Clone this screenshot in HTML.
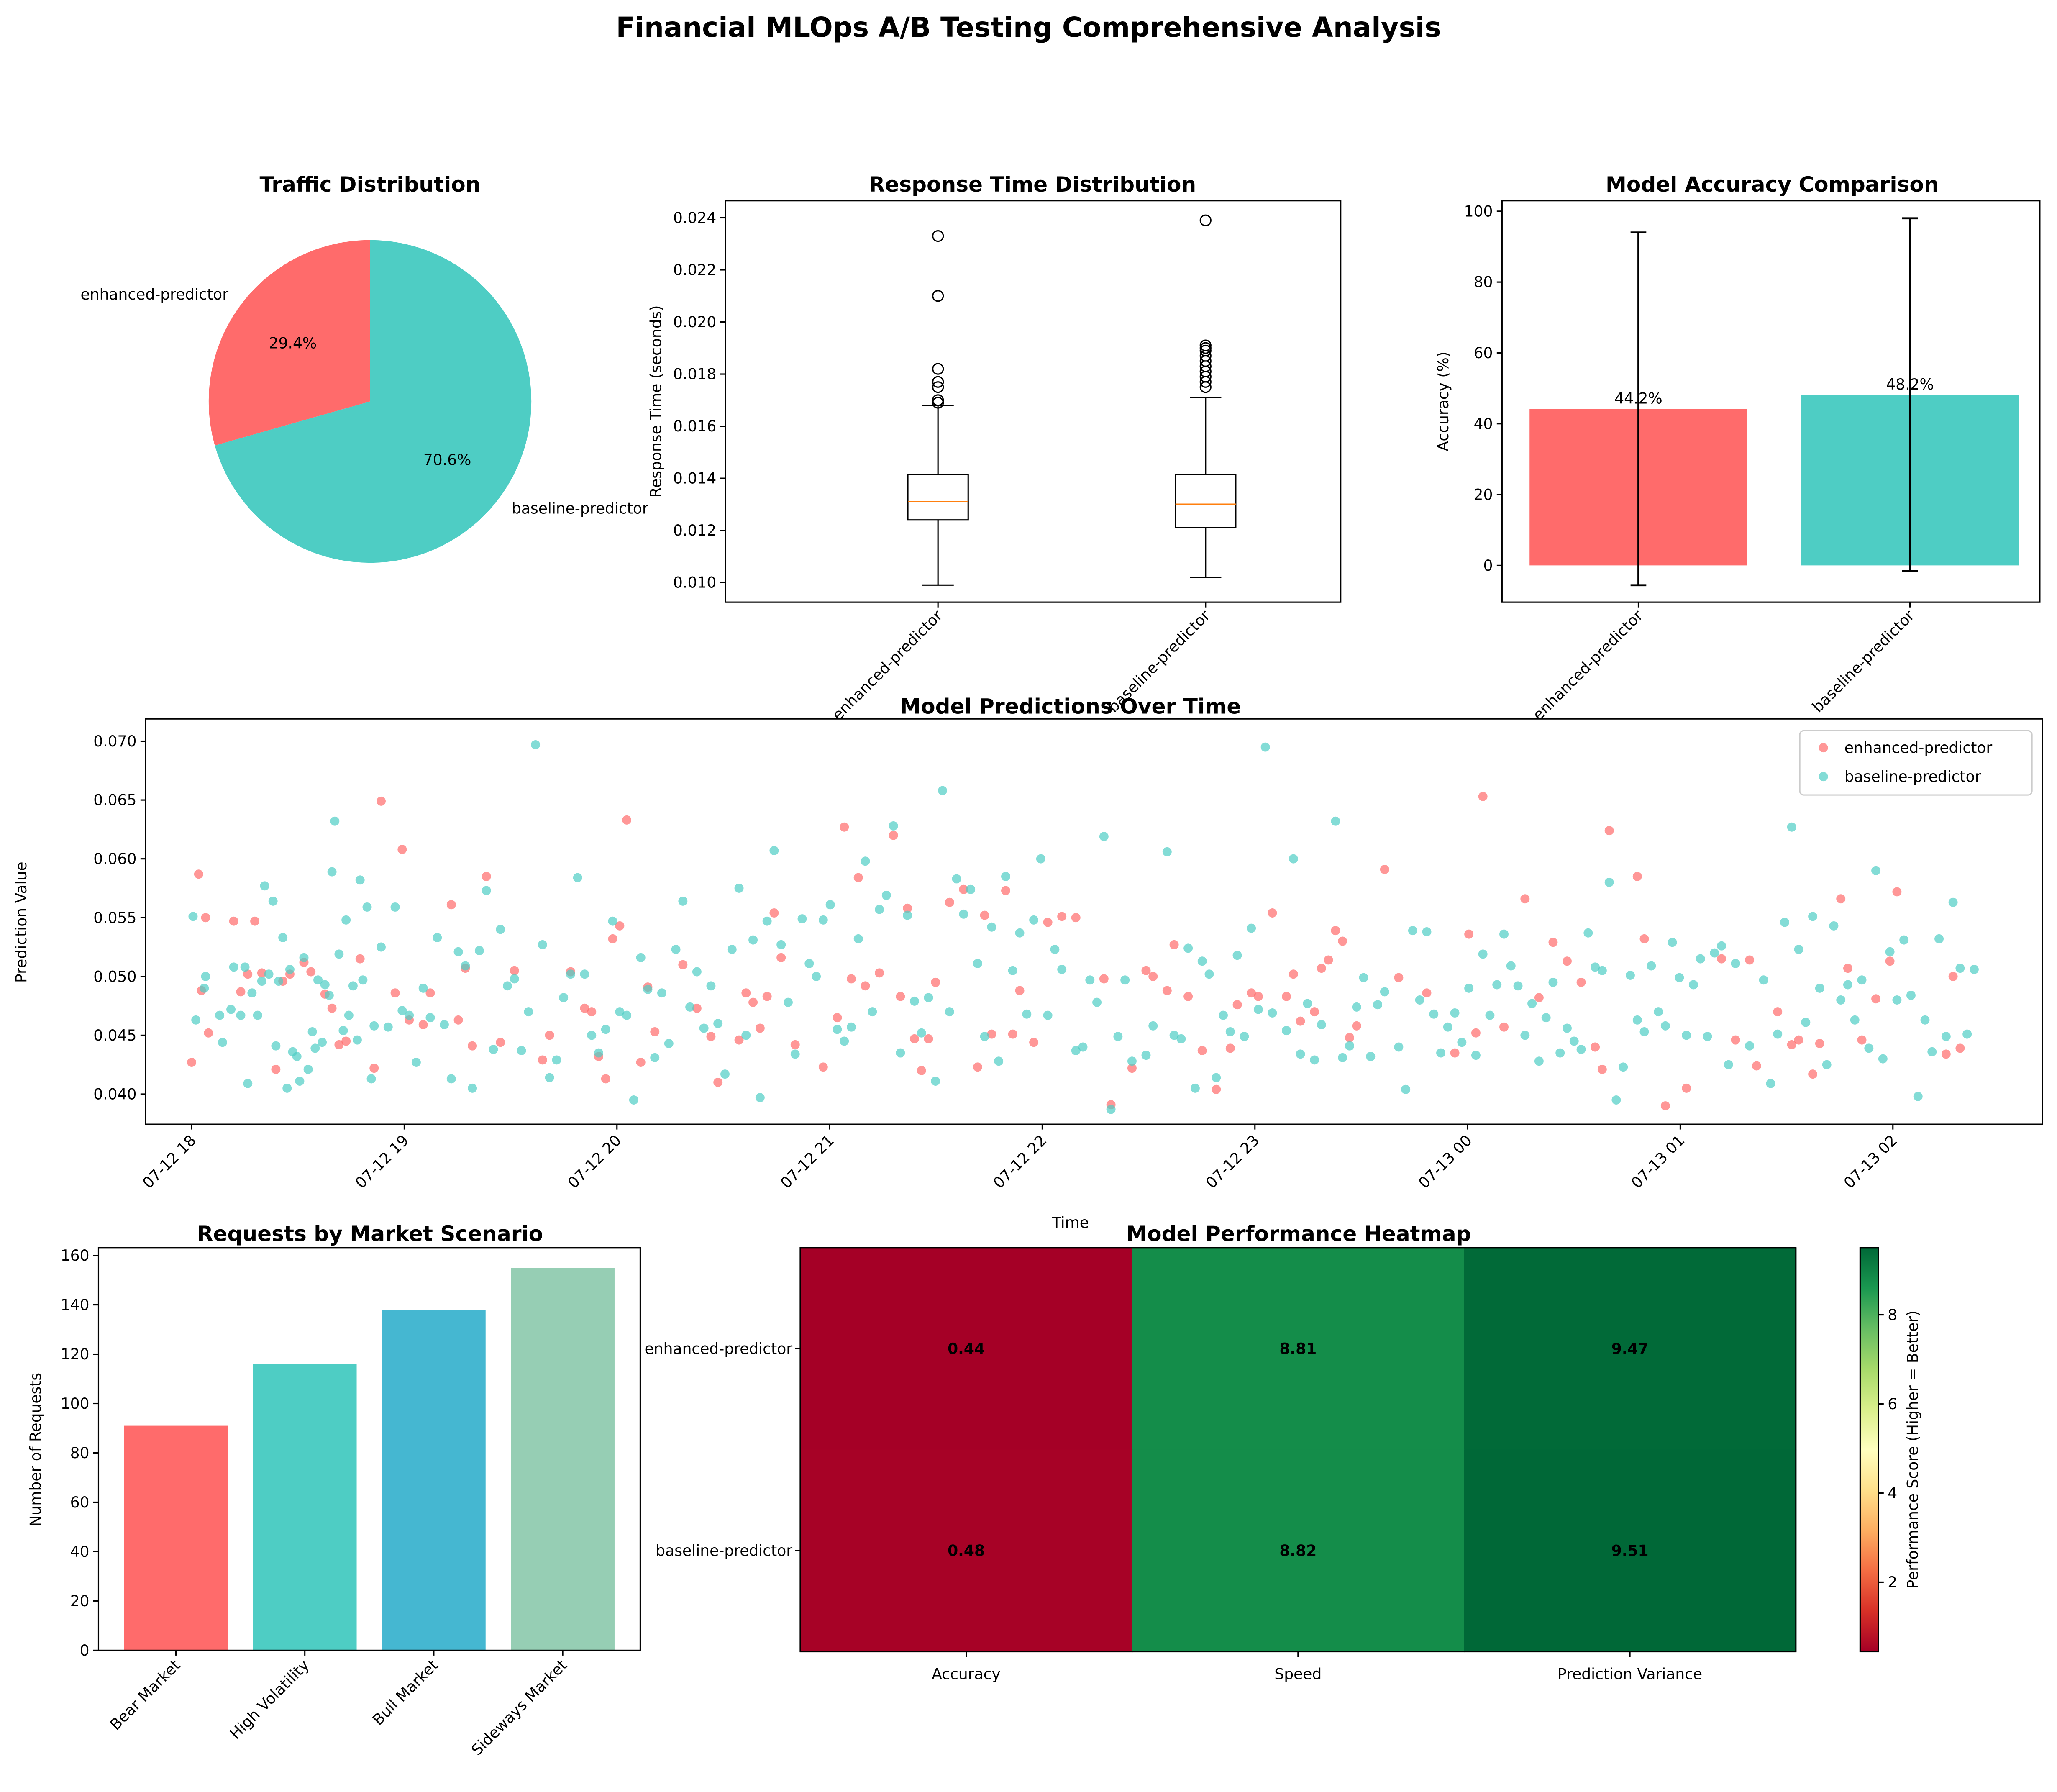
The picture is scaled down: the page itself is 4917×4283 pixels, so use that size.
<!DOCTYPE html>
<html><head><meta charset="utf-8"><style>
html,body{margin:0;padding:0;background:#fff;}
svg{display:block;font-family:"DejaVu Sans","Liberation Sans",sans-serif;}
</style></head><body>
<svg id="s" width="4917" height="4283" viewBox="0 0 1568 1366" xmlns="http://www.w3.org/2000/svg">
<rect width="1568" height="1366" fill="#fff"/>
<text x="784" y="28" text-anchor="middle" font-size="21" font-weight="bold">Financial MLOps A/B Testing Comprehensive Analysis</text>
</svg>
<script>
// ---- data ----
const models = ["enhanced-predictor","baseline-predictor"];
const trafficShare = [29.4, 70.6];
const modelColors = ["#FF6B6B","#4ECDC4"];
const rtQ1 = [0.0124, 0.0121];
const rtMedian = [0.0131, 0.0130];
const rtQ3 = [0.01415, 0.01415];
const rtLow = [0.0099, 0.0102];
const rtHigh = [0.0168, 0.0171];
const rtOutE = [0.0233,0.0210,0.0182,0.0177,0.0175,0.0170,0.0169];
const rtOutB = [0.0239,0.0191,0.0190,0.0189,0.0187,0.0185,0.0183,0.0181,0.0179,0.0177,0.0175];
const rtTicks = [0.010,0.012,0.014,0.016,0.018,0.020,0.022,0.024];
const accValues = [44.2, 48.2];
const accErr = [49.8, 49.8];
const accTicks = [0,20,40,60,80,100];
const scenarios = ["Bear Market","High Volatility","Bull Market","Sideways Market"];
const scenarioCounts = [91,116,138,155];
const scenarioColors = ["#FF6B6B","#4ECDC4","#45B7D1","#96CEB4"];
const scenTicks = [0,20,40,60,80,100,120,140,160];
const heatCols = ["Accuracy","Speed","Prediction Variance"];
const heatVals = [[0.44,8.81,9.47],[0.48,8.82,9.51]];
const cbTicks = [2,4,6,8];
const predTicks = [0.040,0.045,0.050,0.055,0.060,0.065,0.070];
const timeTicks = ["07-12 18","07-12 19","07-12 20","07-12 21","07-12 22","07-12 23","07-13 00","07-13 01","07-13 02"];
const TSCALE = 0.66; // sample-time units -> hours
const predTeal = [[0.01,.0551],[0.03,.0463],[0.09,.0490],[0.1,.0500],[0.2,.0467],[0.22,.0444],[0.28,.0472],[0.3,.0508],[0.35,.0467],[0.38,.0508],[0.4,.0409],[0.43,.0486],[0.47,.0467],[0.5,.0496],[0.52,.0577],[0.55,.0502],[0.58,.0564],[0.6,.0441],[0.62,.0496],[0.65,.0533],[0.68,.0405],[0.7,.0506],[0.72,.0436],[0.75,.0432],[0.77,.0411],[0.8,.0516],[0.83,.0421],[0.86,.0453],[0.88,.0439],[0.9,.0497],[0.93,.0444],[0.95,.0493],[0.98,.0484],[1.0,.0589],[1.02,.0632],[1.05,.0519],[1.08,.0454],[1.1,.0548],[1.12,.0467],[1.15,.0492],[1.18,.0446],[1.2,.0582],[1.22,.0497],[1.25,.0559],[1.28,.0413],[1.3,.0458],[1.35,.0525],[1.4,.0457],[1.45,.0559],[1.5,.0471],[1.55,.0467],[1.6,.0427],[1.65,.0490],[1.7,.0465],[1.75,.0533],[1.8,.0459],[1.85,.0413],[1.9,.0521],[1.95,.0509],[2.0,.0405],[2.05,.0522],[2.1,.0573],[2.15,.0438],[2.2,.0540],[2.25,.0492],[2.3,.0498],[2.35,.0437],[2.4,.0470],[2.45,.0697],[2.5,.0527],[2.55,.0414],[2.6,.0429],[2.65,.0482],[2.7,.0502],[2.75,.0584],[2.8,.0502],[2.85,.0450],[2.9,.0435],[2.95,.0455],[3.0,.0547],[3.05,.0470],[3.1,.0467],[3.15,.0395],[3.2,.0516],[3.25,.0489],[3.3,.0431],[3.35,.0486],[3.4,.0443],[3.45,.0523],[3.5,.0564],[3.55,.0474],[3.6,.0504],[3.65,.0456],[3.7,.0492],[3.75,.0460],[3.8,.0417],[3.85,.0523],[3.9,.0575],[3.95,.0450],[4.0,.0531],[4.05,.0397],[4.1,.0547],[4.15,.0607],[4.2,.0527],[4.25,.0478],[4.3,.0434],[4.35,.0549],[4.4,.0511],[4.45,.0500],[4.5,.0548],[4.55,.0561],[4.6,.0455],[4.65,.0445],[4.7,.0457],[4.75,.0532],[4.8,.0598],[4.85,.0470],[4.9,.0557],[4.95,.0569],[5.0,.0628],[5.05,.0435],[5.1,.0552],[5.15,.0479],[5.2,.0452],[5.25,.0482],[5.3,.0411],[5.35,.0658],[5.4,.0470],[5.45,.0583],[5.5,.0553],[5.55,.0574],[5.6,.0511],[5.65,.0449],[5.7,.0542],[5.75,.0428],[5.8,.0585],[5.85,.0505],[5.9,.0537],[5.95,.0468],[6.0,.0548],[6.05,.0600],[6.1,.0467],[6.15,.0523],[6.2,.0506],[6.3,.0437],[6.35,.0440],[6.4,.0497],[6.45,.0478],[6.5,.0619],[6.55,.0387],[6.6,.0449],[6.65,.0497],[6.7,.0428],[6.8,.0433],[6.85,.0458],[6.95,.0606],[7.0,.0450],[7.05,.0447],[7.1,.0524],[7.15,.0405],[7.2,.0513],[7.25,.0502],[7.3,.0414],[7.35,.0467],[7.4,.0453],[7.45,.0518],[7.5,.0449],[7.55,.0541],[7.6,.0472],[7.65,.0695],[7.7,.0469],[7.8,.0454],[7.85,.0600],[7.9,.0434],[7.95,.0477],[8.0,.0429],[8.05,.0459],[8.15,.0632],[8.2,.0431],[8.25,.0441],[8.3,.0474],[8.35,.0499],[8.4,.0432],[8.45,.0476],[8.5,.0487],[8.6,.0440],[8.65,.0404],[8.7,.0539],[8.75,.0480],[8.8,.0538],[8.85,.0468],[8.9,.0435],[8.95,.0457],[9.0,.0469],[9.05,.0444],[9.1,.0490],[9.15,.0433],[9.2,.0519],[9.25,.0467],[9.3,.0493],[9.35,.0536],[9.4,.0509],[9.45,.0492],[9.5,.0450],[9.55,.0477],[9.6,.0428],[9.65,.0465],[9.7,.0495],[9.75,.0435],[9.8,.0456],[9.85,.0445],[9.9,.0438],[9.95,.0537],[10.0,.0508],[10.05,.0505],[10.1,.0580],[10.15,.0395],[10.2,.0423],[10.25,.0501],[10.3,.0463],[10.35,.0453],[10.4,.0509],[10.45,.0470],[10.5,.0458],[10.55,.0529],[10.6,.0499],[10.65,.0450],[10.7,.0493],[10.75,.0515],[10.8,.0449],[10.85,.0520],[10.9,.0526],[10.95,.0425],[11.0,.0511],[11.1,.0441],[11.2,.0497],[11.25,.0409],[11.3,.0451],[11.35,.0546],[11.4,.0627],[11.45,.0523],[11.5,.0461],[11.55,.0551],[11.6,.0490],[11.65,.0425],[11.7,.0543],[11.75,.0480],[11.8,.0493],[11.85,.0463],[11.9,.0497],[11.95,.0439],[12.0,.0590],[12.05,.0430],[12.1,.0521],[12.15,.0480],[12.2,.0531],[12.25,.0484],[12.3,.0398],[12.35,.0463],[12.4,.0436],[12.45,.0532],[12.5,.0449],[12.55,.0563],[12.6,.0507],[12.65,.0451],[12.7,.0506]];
const predRed = [[0,.0427],[0.05,.0587],[0.07,.0488],[0.1,.0550],[0.12,.0452],[0.3,.0547],[0.35,.0487],[0.4,.0502],[0.45,.0547],[0.5,.0503],[0.6,.0421],[0.65,.0496],[0.7,.0502],[0.8,.0512],[0.85,.0504],[0.95,.0485],[1.0,.0473],[1.05,.0442],[1.1,.0445],[1.2,.0515],[1.3,.0422],[1.35,.0649],[1.45,.0486],[1.5,.0608],[1.55,.0463],[1.65,.0459],[1.7,.0486],[1.85,.0561],[1.9,.0463],[1.95,.0507],[2.0,.0441],[2.1,.0585],[2.2,.0444],[2.3,.0505],[2.5,.0429],[2.55,.0450],[2.7,.0504],[2.8,.0473],[2.85,.0470],[2.9,.0432],[2.95,.0413],[3.0,.0532],[3.05,.0543],[3.1,.0633],[3.2,.0427],[3.25,.0491],[3.3,.0453],[3.5,.0510],[3.6,.0473],[3.7,.0449],[3.75,.0410],[3.9,.0446],[3.95,.0486],[4.0,.0478],[4.05,.0456],[4.1,.0483],[4.15,.0554],[4.2,.0516],[4.3,.0442],[4.5,.0423],[4.6,.0465],[4.65,.0627],[4.7,.0498],[4.75,.0584],[4.8,.0492],[4.9,.0503],[5.0,.0620],[5.05,.0483],[5.1,.0558],[5.15,.0447],[5.2,.0420],[5.25,.0447],[5.3,.0495],[5.4,.0563],[5.5,.0574],[5.6,.0423],[5.65,.0552],[5.7,.0451],[5.8,.0573],[5.85,.0451],[5.9,.0488],[6.0,.0444],[6.1,.0546],[6.2,.0551],[6.3,.0550],[6.5,.0498],[6.55,.0391],[6.7,.0422],[6.8,.0505],[6.85,.0500],[6.95,.0488],[7.0,.0527],[7.1,.0483],[7.2,.0437],[7.3,.0404],[7.4,.0439],[7.45,.0476],[7.55,.0486],[7.6,.0483],[7.7,.0554],[7.8,.0483],[7.85,.0502],[7.9,.0462],[8.0,.0470],[8.05,.0507],[8.1,.0514],[8.15,.0539],[8.2,.0530],[8.25,.0448],[8.3,.0458],[8.5,.0591],[8.6,.0499],[8.8,.0486],[9.0,.0435],[9.1,.0536],[9.15,.0452],[9.2,.0653],[9.35,.0457],[9.5,.0566],[9.6,.0482],[9.7,.0529],[9.8,.0513],[9.9,.0495],[10.0,.0440],[10.05,.0421],[10.1,.0624],[10.3,.0585],[10.35,.0532],[10.5,.0390],[10.65,.0405],[10.9,.0515],[11.0,.0446],[11.1,.0514],[11.15,.0424],[11.3,.0470],[11.4,.0442],[11.45,.0446],[11.55,.0417],[11.6,.0443],[11.75,.0566],[11.8,.0507],[11.9,.0446],[12.0,.0481],[12.1,.0513],[12.15,.0572],[12.5,.0434],[12.55,.0500],[12.6,.0439]];

// ---- helpers ----
const S = document.getElementById('s');
const NS = "http://www.w3.org/2000/svg";
function mk(tag, attrs, parent){const e=document.createElementNS(NS,tag);for(const k in attrs)e.setAttribute(k,attrs[k]);(parent||S).appendChild(e);return e;}
function txt(x,y,t,attrs,parent){const e=mk('text',Object.assign({x:x,y:y,'font-size':11.5},attrs||{}),parent);e.textContent=t;return e;}
function lin(d0,d1,r0,r1){return v=>r0+(v-d0)/(d1-d0)*(r1-r0);}
function frame(x0,y0,x1,y1,name){const r=mk('rect',{x:x0,y:y0,width:x1-x0,height:y1-y0,fill:'none',stroke:'#000','stroke-width':1});return r;}
function ytick(x,y,label){mk('line',{x1:x-4,y1:y,x2:x,y2:y,stroke:'#000'});const t=txt(x-7,y+4,label,{'text-anchor':'end'});}
function title(x,y,t,name){const e=txt(x,y,t,{'text-anchor':'middle','font-size':16,'font-weight':'bold'});return e;}

// ---- upper-row rotated labels first (drawn under scatter background) ----
const rtX=[715,919], accX=[1249,1456];
models.forEach((m,i)=>{
  const a=txt(rtX[i]+4,470,m,{'text-anchor':'end',transform:`rotate(-45 ${rtX[i]+4} 470)`});
  
  
  const b=txt(accX[i]+4,470,m,{'text-anchor':'end',transform:`rotate(-45 ${accX[i]+4} 470)`});
  
  
});

// ---- pie ----
title(282,146,"Traffic Distribution","pie-title");
(function(){
  const cx=282,cy=306,r=123;let ang=90;
  trafficShare.forEach((v,i)=>{
    const sweep=v/100*360;const a0=ang*Math.PI/180,a1=(ang+sweep)*Math.PI/180;
    const p=mk('path',{d:`M${cx},${cy} L${cx+r*Math.cos(a0)},${cy-r*Math.sin(a0)} A${r},${r} 0 ${sweep>180?1:0} 0 ${cx+r*Math.cos(a1)},${cy-r*Math.sin(a1)} Z`,fill:modelColors[i]});
    
    
    const mid=(ang+sweep/2)*Math.PI/180;
    const pt=txt(cx+0.6*r*Math.cos(mid),cy-0.6*r*Math.sin(mid)+4,v.toFixed(1)+'%',{'text-anchor':'middle'});
    
    
    const lx=cx+1.1*r*Math.cos(mid),ly=cy-1.1*r*Math.sin(mid)+4;
    const lt=txt(lx,ly,models[i],{'text-anchor':Math.cos(mid)<0?'end':'start'});
    
    
    ang+=sweep;
  });
})();

// ---- box plot ----
title(787,146,"Response Time Distribution","box-title");
(function(){
  const y=lin(0.010,0.024,444,166);
  frame(553,153,1022,459,'box-axes');
  rtTicks.forEach(v=>ytick(553,y(v),v.toFixed(3)));
  const yl=txt(504,306,"Response Time (seconds)",{'text-anchor':'middle',transform:'rotate(-90 504 306)'});
  
  
  const outs=[rtOutE,rtOutB];
  models.forEach((m,i)=>{
    const cx=rtX[i],w=46;
    mk('line',{x1:cx,y1:459,x2:cx,y2:463,stroke:'#000'});
    mk('line',{x1:cx,y1:y(rtLow[i]),x2:cx,y2:y(rtQ1[i]),stroke:'#000'});
    mk('line',{x1:cx,y1:y(rtQ3[i]),x2:cx,y2:y(rtHigh[i]),stroke:'#000'});
    mk('line',{x1:cx-12,y1:y(rtLow[i]),x2:cx+12,y2:y(rtLow[i]),stroke:'#000'});
    mk('line',{x1:cx-12,y1:y(rtHigh[i]),x2:cx+12,y2:y(rtHigh[i]),stroke:'#000'});
    const b=mk('rect',{x:cx-w/2,y:y(rtQ3[i]),width:w,height:y(rtQ1[i])-y(rtQ3[i]),fill:'none',stroke:'#000'});
    
    
    mk('line',{x1:cx-w/2,y1:y(rtMedian[i]),x2:cx+w/2,y2:y(rtMedian[i]),stroke:'#FF7F0E','stroke-width':1.2});
    outs[i].forEach(v=>{const c=mk('circle',{cx:cx,cy:y(v),r:4,fill:'none',stroke:'#000'});});
  });
})();

// ---- accuracy bars ----
title(1351,146,"Model Accuracy Comparison","accuracy-title");
(function(){
  const y=lin(0,100,431,161);
  accTicks.forEach(v=>ytick(1145,y(v),String(v)));
  models.forEach((m,i)=>{
    const cx=accX[i];
    const b=mk('rect',{x:cx-83,y:y(accValues[i]),width:166,height:y(0)-y(accValues[i]),fill:modelColors[i]});
    
    
    const lo=y(accValues[i]-accErr[i]),hi=y(accValues[i]+accErr[i]);
    mk('line',{x1:cx,y1:lo,x2:cx,y2:hi,stroke:'#000','stroke-width':1.5});
    mk('line',{x1:cx-6,y1:lo,x2:cx+6,y2:lo,stroke:'#000','stroke-width':1.5});
    mk('line',{x1:cx-6,y1:hi,x2:cx+6,y2:hi,stroke:'#000','stroke-width':1.5});
    mk('line',{x1:cx,y1:459,x2:cx,y2:463,stroke:'#000'});
    const t=txt(cx,y(accValues[i])-4,accValues[i].toFixed(1)+'%',{'text-anchor':'middle'});
    
    
  });
  frame(1145,153,1555,459,'accuracy-axes');
  const yl=txt(1104,306,"Accuracy (%)",{'text-anchor':'middle',transform:'rotate(-90 1104 306)'});
  
  
})();

// ---- scatter over time ----
(function(){
  const bg=mk('rect',{x:111,y:548,width:1446,height:309,fill:'#fff'});
  
  
  title(816,544,"Model Predictions Over Time","scatter-title");
  const x=lin(0,8,146,1443), y=lin(0.040,0.070,834,565);
  predTicks.forEach(v=>ytick(111,y(v),v.toFixed(3)));
  timeTicks.forEach((l,i)=>{
    const px=x(i);mk('line',{x1:px,y1:857,x2:px,y2:861,stroke:'#000'});
    const t=txt(px+4,870,l,{'text-anchor':'end',transform:`rotate(-45 ${px+4} 870)`});
    
    
  });
  [[predRed,0],[predTeal,1]].forEach(([arr,i])=>{
    arr.forEach(p=>{
      const c=mk('circle',{cx:x(p[0]*TSCALE),cy:y(p[1]),r:3.5,fill:modelColors[i],'fill-opacity':0.7});
      
      
    });
  });
  frame(111,548,1557,857,'scatter-axes');
  const xl=txt(816,936,"Time",{'text-anchor':'middle'});
  
  
  const yl=txt(20,703,"Prediction Value",{'text-anchor':'middle',transform:'rotate(-90 20 703)'});
  
  
  const lg=mk('rect',{x:1372,y:557,width:177,height:49,fill:'#fff',stroke:'#ccc',rx:3});
  
  
  models.forEach((m,i)=>{
    const c=mk('circle',{cx:1390,cy:570+i*22,r:3.5,fill:modelColors[i],'fill-opacity':0.7});
    
    
    const t=txt(1406,574+i*22,m,{});
    
    
  });
})();

// ---- scenario bars ----
title(282,946,"Requests by Market Scenario","scenario-title");
(function(){
  const y=lin(0,160,1258,957);
  scenTicks.forEach(v=>ytick(75,y(v),String(v)));
  scenarios.forEach((s,i)=>{
    const cx=134+i*98.3;
    const b=mk('rect',{x:cx-39.5,y:y(scenarioCounts[i]),width:79,height:y(0)-y(scenarioCounts[i]),fill:scenarioColors[i]});
    
    
    mk('line',{x1:cx,y1:1258,x2:cx,y2:1262,stroke:'#000'});
    const t=txt(cx+4,1270,s,{'text-anchor':'end',transform:`rotate(-45 ${cx+4} 1270)`});
    
    
  });
  frame(75,951,488,1258,'scenario-axes');
  const yl=txt(31,1105,"Number of Requests",{'text-anchor':'middle',transform:'rotate(-90 31 1105)'});
  
  
})();

// ---- heatmap ----
title(990,946,"Model Performance Heatmap","heatmap-title");
(function(){
  const stops=["#a50026","#d73027","#f46d43","#fdae61","#fee08b","#ffffbf","#d9ef8b","#a6d96a","#66bd63","#1a9850","#006837"];
  const vmin=0.44,vmax=9.51;
  function hex(h){return [1,3,5].map(k=>parseInt(h.substr(k,2),16));}
  function cmap(v){let t=Math.max(0,Math.min(1,(v-vmin)/(vmax-vmin)))*10;const i=Math.min(9,Math.floor(t));const f=t-i;const a=hex(stops[i]),b=hex(stops[i+1]);return 'rgb('+a.map((c,k)=>Math.round(c+(b[k]-c)*f)).join(',')+')';}
  const x0=610,y0=951,cw=253,ch=154;
  heatVals.forEach((row,r)=>{
    row.forEach((v,c)=>{
      const rc=mk('rect',{x:x0+c*cw,y:y0+r*ch,width:cw+0.5,height:ch+0.5,fill:cmap(v)});
      
      
      const t=txt(x0+c*cw+cw/2,y0+r*ch+ch/2+4,v.toFixed(2),{'text-anchor':'middle','font-weight':'bold'});
      
      
    });
    mk('line',{x1:x0-4,y1:y0+r*ch+ch/2,x2:x0,y2:y0+r*ch+ch/2,stroke:'#000'});
    const l=txt(x0-6,y0+r*ch+ch/2+4,models[r],{'text-anchor':'end'});
    
    
  });
  heatCols.forEach((c,i)=>{
    const cx=x0+i*cw+cw/2;
    mk('line',{x1:cx,y1:1259,x2:cx,y2:1263,stroke:'#000'});
    const t=txt(cx,1280,c,{'text-anchor':'middle'});
    
    
  });
  frame(610,951,1369,1259,'heatmap-axes');
  const defs=mk('defs',{});
  const g=mk('linearGradient',{id:'rdylgn',x1:0,y1:1,x2:0,y2:0},defs);
  stops.forEach((c,i)=>mk('stop',{offset:i/10,'stop-color':c},g));
  const cb=mk('rect',{x:1418,y:951,width:14,height:308,fill:'url(#rdylgn)',stroke:'#000'});
  
  
  const cy=lin(vmin,vmax,1259,951);
  cbTicks.forEach(v=>{
    mk('line',{x1:1432,y1:cy(v),x2:1436,y2:cy(v),stroke:'#000'});
    const t=txt(1439,cy(v)+4,String(v),{});
    
    
  });
  const cl=txt(1462,1105,"Performance Score (Higher = Better)",{'text-anchor':'middle',transform:'rotate(-90 1462 1105)'});
  
  
})();
</script>
</body></html>
